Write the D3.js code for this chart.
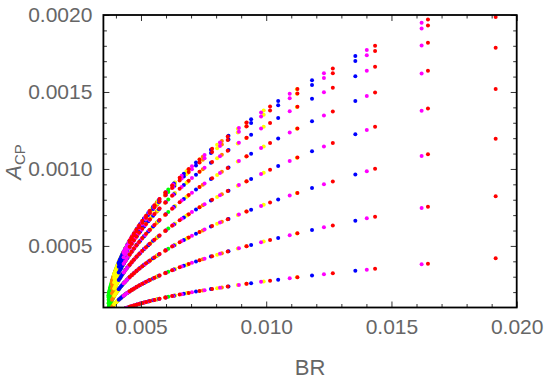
<!DOCTYPE html>
<html>
<head>
<meta charset="utf-8">
<script src="https://cdn.jsdelivr.net/npm/d3@7"></script>
<style>
  html, body { margin: 0; padding: 0; background: #fff; }
  svg { display: block; }
</style>
</head>
<body>
<svg id="chart" width="545" height="382"></svg>
<script>
// ---- data ----
// relative heights of the eight fan curves (same for every series)
const phaseFractions = [0.195, 0.383, 0.556, 0.707, 0.831, 0.924, 0.981, 1.0];

// each series: column BR positions and top-curve A_CP amplitude of that column
const greenBR  = [0.006090,0.005657,0.005319,0.005049,0.004823,0.004649,0.004499,0.004378,0.004278,0.004198,0.004129,0.004071,0.004022,0.003981,0.003943,0.003910,0.003881,0.003856,0.003833,0.003812,0.003795,0.003779,0.003764,0.003752,0.003740,0.003728,0.003717,0.003708];
const greenAmp = [0.000867,0.000788,0.000720,0.000661,0.000608,0.000563,0.000521,0.000485,0.000452,0.000425,0.000400,0.000377,0.000357,0.000339,0.000322,0.000306,0.000291,0.000278,0.000265,0.000253,0.000243,0.000232,0.000223,0.000214,0.000205,0.000197,0.000188,0.000180];

const orangeBR  = [0.009202,0.008229,0.007468,0.006861,0.006353,0.005959,0.005623,0.005351,0.005126,0.004945,0.004790,0.004660,0.004551,0.004456,0.004371,0.004298,0.004232,0.004177,0.004124,0.004078,0.004039,0.004002,0.003970,0.003942,0.003915,0.003888,0.003864,0.003843];
const orangeAmp = [0.001300,0.001182,0.001080,0.000992,0.000911,0.000844,0.000781,0.000727,0.000679,0.000637,0.000599,0.000566,0.000536,0.000508,0.000482,0.000459,0.000437,0.000417,0.000398,0.000380,0.000364,0.000348,0.000334,0.000321,0.000308,0.000295,0.000282,0.000270];

const yellowBR  = [0.011224,0.009900,0.008865,0.008039,0.007347,0.006811,0.006354,0.005983,0.005678,0.005431,0.005220,0.005043,0.004894,0.004766,0.004649,0.004550,0.004461,0.004385,0.004314,0.004250,0.004198,0.004147,0.004103,0.004065,0.004028,0.003993,0.003959,0.003930];
const yellowAmp = [0.001517,0.001379,0.001261,0.001157,0.001063,0.000984,0.000912,0.000848,0.000792,0.000743,0.000699,0.000660,0.000625,0.000593,0.000563,0.000535,0.000510,0.000487,0.000464,0.000443,0.000425,0.000407,0.000390,0.000375,0.000360,0.000344,0.000329,0.000316];

const blueBR  = [0.013558,0.011829,0.010477,0.009398,0.008494,0.007794,0.007197,0.006712,0.006314,0.005991,0.005716,0.005484,0.005290,0.005123,0.004970,0.004841,0.004724,0.004626,0.004532,0.004449,0.004381,0.004315,0.004257,0.004207,0.004160,0.004113];
const blueAmp = [0.001734,0.001576,0.001441,0.001323,0.001215,0.001125,0.001042,0.000969,0.000905,0.000849,0.000799,0.000754,0.000714,0.000678,0.000643,0.000612,0.000582,0.000556,0.000530,0.000506,0.000485,0.000465,0.000446,0.000428,0.000411,0.000394];

const magentaBR  = [0.016204,0.014015,0.012304,0.010938,0.009794,0.008909,0.008153,0.007539,0.007035,0.006626,0.006278,0.005985,0.005739,0.005527,0.005334,0.005170,0.005023,0.004898,0.004780,0.004675,0.004588,0.004505,0.004432,0.004369,0.004308];
const magentaAmp = [0.001950,0.001773,0.001621,0.001488,0.001367,0.001266,0.001172,0.001090,0.001018,0.000956,0.000899,0.000848,0.000804,0.000763,0.000724,0.000688,0.000655,0.000626,0.000597,0.000569,0.000546,0.000523,0.000501,0.000482,0.000462];

const redBR  = [0.019160,0.016457,0.014346,0.012659,0.011246,0.010154,0.009220,0.008463,0.007840,0.007336,0.006907,0.006544,0.006241,0.005979,0.005741,0.005539,0.005357,0.005203,0.005056,0.004927,0.004820,0.004717,0.004627,0.004549];
const redAmp = [0.002150,0.001970,0.001801,0.001653,0.001519,0.001406,0.001302,0.001211,0.001131,0.001062,0.000999,0.000943,0.000893,0.000847,0.000804,0.000765,0.000728,0.000696,0.000663,0.000633,0.000607,0.000581,0.000557,0.000535];

const seriesNames  = ["green", "orange", "yellow", "blue", "magenta", "red"];
const seriesColors = ["#00ff00", "#ff8000", "#ffff00", "#0000ff", "#ff00ff", "#ff0000"];
const seriesBR  = [greenBR, orangeBR, yellowBR, blueBR, magentaBR, redBR];
const seriesAmp = [greenAmp, orangeAmp, yellowAmp, blueAmp, magentaAmp, redAmp];

const xTicks = [0.005, 0.010, 0.015, 0.020];
const xTickLabels = ["0.005", "0.010", "0.015", "0.020"];
const yTicks = [0.0005, 0.0010, 0.0015, 0.0020];
const yTickLabels = ["0.0005", "0.0010", "0.0015", "0.0020"];
const xMinorTicks = [0.004, 0.006, 0.007, 0.008, 0.009, 0.011, 0.012, 0.013, 0.014, 0.016, 0.017, 0.018, 0.019];
const yMinorTicks = [0.0002, 0.0003, 0.0004, 0.0006, 0.0007, 0.0008, 0.0009, 0.0011, 0.0012, 0.0013, 0.0014, 0.0016, 0.0017, 0.0018, 0.0019];

// ---- layout ----
const plot = { left: 103.4, right: 516.7, top: 15, bottom: 307.5 };
const svg = d3.select("#chart");

const x = d3.scaleLinear().domain([0.0035, 0.020]).range([plot.left, plot.right]);
const y = d3.scaleLinear().domain([0.0001, 0.0020]).range([plot.bottom, plot.top]);

svg.append("defs").append("clipPath").attr("id", "clip")
  .append("rect")
  .attr("x", plot.left).attr("y", plot.top)
  .attr("width", plot.right - plot.left).attr("height", plot.bottom - plot.top);

// points
const points = [];
seriesNames.forEach((name, s) => {
  seriesBR[s].forEach((br, i) => {
    phaseFractions.forEach(f => {
      points.push({ s, x: br, y: seriesAmp[s][i] * f });
    });
  });
});

svg.append("g").attr("clip-path", "url(#clip)")
  .selectAll("circle").data(points).join("circle")
  .attr("cx", d => x(d.x))
  .attr("cy", d => y(d.y))
  .attr("r", 2)
  .attr("fill", d => seriesColors[d.s]);

// axes with ticks on all four sides (inward)
const tickColor = "#333";
const labelColor = "#666";
const font = "'Liberation Sans', Arial, sans-serif";

function styleAxis(g) {
  g.select(".domain").remove();
  g.selectAll(".tick line").attr("stroke", tickColor).attr("stroke-width", 1);
  g.selectAll(".tick text").attr("fill", labelColor).style("font-family", font).style("font-size", "21px");
}

// bottom
svg.append("g").attr("transform", `translate(0,${plot.bottom})`)
  .call(d3.axisBottom(x).tickValues(xTicks).tickFormat((d, i) => xTickLabels[i]).tickSizeInner(-6).tickSizeOuter(0).tickPadding(12))
  .call(styleAxis);
svg.append("g").attr("transform", `translate(0,${plot.bottom})`)
  .call(d3.axisBottom(x).tickValues(xMinorTicks).tickFormat("").tickSizeInner(-3.5).tickSizeOuter(0))
  .call(styleAxis);
// top
svg.append("g").attr("transform", `translate(0,${plot.top})`)
  .call(d3.axisTop(x).tickValues(xTicks).tickFormat("").tickSizeInner(-6).tickSizeOuter(0))
  .call(styleAxis);
svg.append("g").attr("transform", `translate(0,${plot.top})`)
  .call(d3.axisTop(x).tickValues(xMinorTicks).tickFormat("").tickSizeInner(-3.5).tickSizeOuter(0))
  .call(styleAxis);
// left
svg.append("g").attr("transform", `translate(${plot.left},0)`)
  .call(d3.axisLeft(y).tickValues(yTicks).tickFormat((d, i) => yTickLabels[i]).tickSizeInner(-6).tickSizeOuter(0).tickPadding(11))
  .call(styleAxis);
svg.append("g").attr("transform", `translate(${plot.left},0)`)
  .call(d3.axisLeft(y).tickValues(yMinorTicks).tickFormat("").tickSizeInner(-3.5).tickSizeOuter(0))
  .call(styleAxis);
// right
svg.append("g").attr("transform", `translate(${plot.right},0)`)
  .call(d3.axisRight(y).tickValues(yTicks).tickFormat("").tickSizeInner(-6).tickSizeOuter(0))
  .call(styleAxis);
svg.append("g").attr("transform", `translate(${plot.right},0)`)
  .call(d3.axisRight(y).tickValues(yMinorTicks).tickFormat("").tickSizeInner(-3.5).tickSizeOuter(0))
  .call(styleAxis);

// frame
svg.append("rect")
  .attr("x", plot.left).attr("y", plot.top)
  .attr("width", plot.right - plot.left).attr("height", plot.bottom - plot.top)
  .attr("fill", "none").attr("stroke", "#000").attr("stroke-width", 1.8);

// axis titles
svg.append("text")
  .attr("x", (plot.left + plot.right) / 2).attr("y", 375)
  .attr("text-anchor", "middle")
  .attr("fill", labelColor)
  .style("font-family", font).style("font-size", "22px")
  .text("BR");

const yl = svg.append("text")
  .attr("transform", `translate(21,162) rotate(-90)`)
  .attr("text-anchor", "middle")
  .attr("fill", labelColor)
  .style("font-family", font);
yl.append("tspan").style("font-style", "italic").style("font-size", "22px").text("A");
yl.append("tspan").style("font-size", "15px").attr("dy", 4).text("CP");
</script>
</body>
</html>
